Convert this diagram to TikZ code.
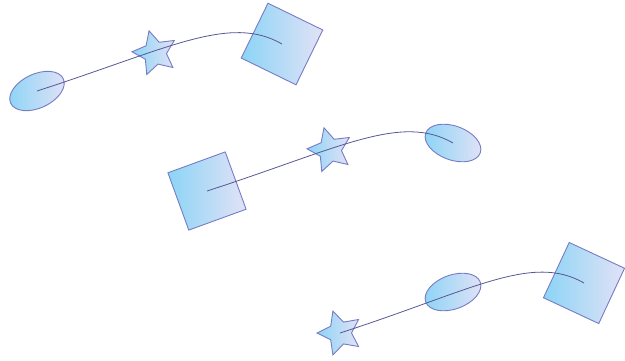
\documentclass[tikz,border=0pt]{standalone}
\usetikzlibrary{shapes.geometric}
\definecolor{fillA}{RGB}{140,212,246}
\definecolor{fillB}{RGB}{226,226,246}
\definecolor{edgeC}{RGB}{118,124,196}
\definecolor{lineC}{RGB}{86,88,150}
\tikzset{
  shp/.style={draw=edgeC, line width=0.9pt, left color=fillA, right color=fillB, inner sep=0pt},
  sq/.style={shp, rectangle, minimum size=61pt},
  ell/.style={shp, ellipse, minimum width=58pt, minimum height=34pt},
  st/.style={shp, star, star points=5, star point ratio=2.0, minimum size=46pt},
  conn/.style={draw=lineC, line width=0.8pt}
}
\begin{document}
\begin{tikzpicture}[x=1pt,y=-1pt]
\useasboundingbox (0,0) rectangle (625,360);
% group 1
\node[ell, rotate=25] (e1) at (37,91) {};
\node[st, rotate=15] (s1) at (155,53) {};
\node[sq, rotate=-26] (q1) at (282,44) {};
% group 2
\node[sq, rotate=20] (q2) at (207,191) {};
\node[st, rotate=15] (s2) at (330,150) {};
\node[ell, rotate=-20] (e2) at (453,143) {};
% group 3
\node[st, rotate=18] (s3) at (340,333) {};
\node[ell, rotate=20] (e3) at (453,292) {};
\node[sq, rotate=-25] (q3) at (584,283) {};
% connectors
\draw[conn] (e1.center) .. controls +(133,-43) and +(-52,-30) .. (q1.center);
\draw[conn] (q2.center) .. controls +(133,-43) and +(-52,-30) .. (e2.center);
\draw[conn] (s3.center) .. controls +(133,-43) and +(-52,-30) .. (q3.center);
\end{tikzpicture}
\end{document}
